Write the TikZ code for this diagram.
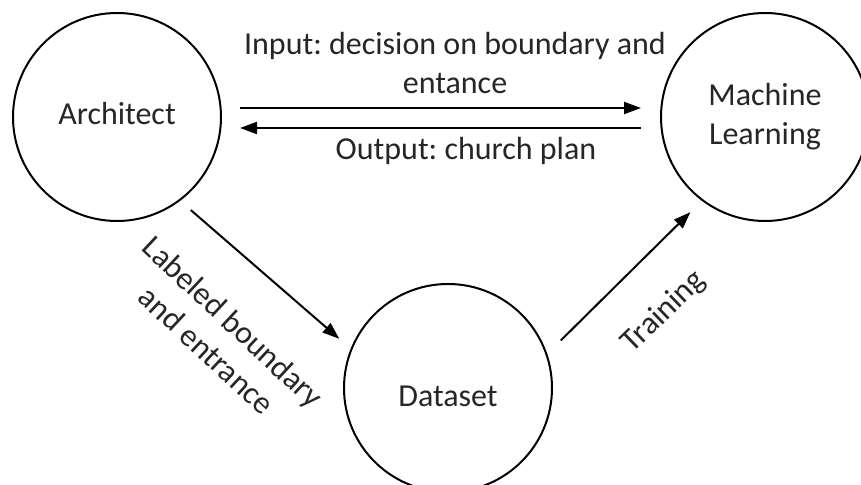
\documentclass[tikz,border=0pt]{standalone}
\usepackage{fontspec}
\setmainfont{Carlito}
\usetikzlibrary{arrows.meta}
\definecolor{labelgray}{RGB}{38,38,38}
\frenchspacing
\begin{document}
\begin{tikzpicture}[x=1pt,y=1pt,
  agent/.style={circle,draw,line width=2pt,minimum size=208pt,inner sep=0pt,
    text=labelgray,align=center,font=\fontsize{32}{39}\selectfont},
  flow/.style={line width=2pt,-{Triangle[length=17pt,width=12pt]}},
  caption/.style={text=labelgray,align=center,font=\fontsize{32}{39}\selectfont}]
\useasboundingbox (0,0) rectangle (861,484);
% Draw the three circles
\node[agent] (arch) at (117,367) {\raisebox{3pt}[\height][\depth]{Architect}};
\node[agent] (ml) at (765,367) {Machine\\Learning};
\node[agent] (data) at (448,96) {\raisebox{-8pt}[\height][\depth]{Dataset}};
% Draw the arrows between them
\draw[flow,shorten <=18pt,shorten >=19pt] ([yshift=9pt]arch.east) -- ([yshift=9pt]ml.west);
\draw[flow,shorten <=19pt,shorten >=18pt] ([yshift=-11pt]ml.west) -- ([yshift=-11pt]arch.east);
\draw[flow,shorten <=14pt,shorten >=15pt] (arch.-53.5) -- (data.158);
\draw[flow,shorten <=19pt,shorten >=16pt] (data.19) -- (ml.233);
% Label the arrows
\node[caption] (input) at (455,421) {Input: decision on boundary and\\entance};
\node[caption] (output) at (466,333) {Output: church plan};
\node[caption,rotate=-43] (labeled) at (220,148) {Labeled boundary\\and entrance};
\node[caption,rotate=44] (training) at (664,172) {Training};
\end{tikzpicture}
\end{document}
